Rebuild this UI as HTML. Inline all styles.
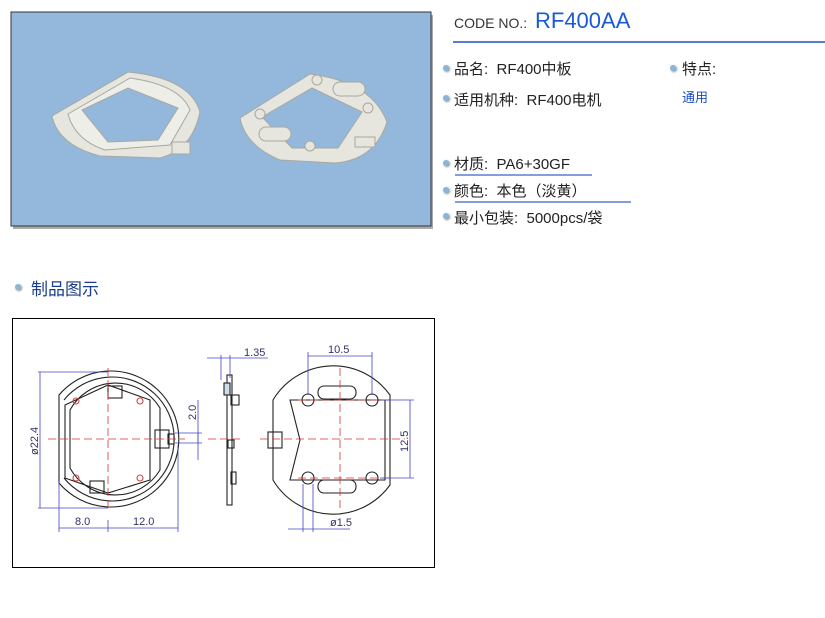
<!DOCTYPE html>
<html><head><meta charset="utf-8"><style>
body{margin:0;width:825px;height:618px;background:#fff;overflow:hidden;font-family:"Liberation Sans","Noto Sans CJK SC",sans-serif;}
.t{position:absolute;font-size:15px;color:#222;white-space:nowrap}
.dot{position:absolute;width:6px;height:6px;border-radius:50%;background:#8ab4d8;box-shadow:1px 1px 2px #888}
</style></head><body>
<svg width="825" height="618" style="position:absolute;left:0;top:0">
<rect x="13" y="15" width="420" height="214" fill="#aaa"/>
<rect x="11" y="12" width="420" height="214" fill="#94b8dc" stroke="#333" stroke-width="1"/>
<g fill="#e6e6de" stroke="#a8a8a0">
<path d="M52,116 L128,72 Q190,78 200,112 Q192,150 160,158 L100,156 Q58,145 52,116Z"/>
<path d="M68,114 L130,78 Q180,85 190,110 L170,145 L105,150 Q75,140 68,114Z" fill="#eeeee8"/>
<path d="M82,110 L128,88 L178,108 L158,140 L108,142Z" fill="#94b8dc"/>
<path d="M240,118 L310,74 Q372,82 387,122 Q375,160 335,163 L280,160 Q245,145 240,118Z"/>
<path d="M262,117 L312,88 L362,112 L338,148 L292,148Z" fill="#94b8dc"/>
<rect x="333" y="82" width="32" height="14" rx="7"/>
<rect x="259" y="127" width="32" height="14" rx="7"/>
<circle cx="260" cy="114" r="5"/><circle cx="317" cy="80" r="5"/><circle cx="368" cy="108" r="5"/><circle cx="310" cy="146" r="5"/>
<rect x="355" y="137" width="20" height="10"/>
<rect x="172" y="142" width="18" height="12"/>
</g>
<line x1="453" y1="42" x2="825" y2="42" stroke="#5a7fd0" stroke-width="2"/>
<line x1="455" y1="175" x2="592" y2="175" stroke="#5a7fd0" stroke-width="1.5"/>
<line x1="455" y1="202" x2="631" y2="202" stroke="#5a7fd0" stroke-width="1.5"/>
<rect x="12.5" y="318.5" width="422" height="249" fill="#fff" stroke="#000" stroke-width="1"/>
<g fill="none" stroke="#222" stroke-width="1.1">
<path d="M59,395 A68,68 0 1,1 59,483 Z"/>
<path d="M64,400 A62,62 0 1,1 64,478"/>
<path d="M70,410 A52,52 0 0,1 160,408 L160,470 A52,52 0 0,1 70,468Z"/>
<path d="M65,405 L108,385 L150,400 L150,480 L108,493 L65,478Z"/>
<rect x="155" y="430" width="14" height="18"/>
<rect x="168" y="434" width="6" height="10"/>
<rect x="108" y="386" width="14" height="12"/><rect x="90" y="481" width="14" height="12"/>
<circle cx="76" cy="401" r="3" stroke="#c44"/><circle cx="140" cy="401" r="3" stroke="#c44"/>
<circle cx="76" cy="478" r="3" stroke="#c44"/><circle cx="140" cy="478" r="3" stroke="#c44"/>
<rect x="227" y="375" width="5" height="130"/>
<rect x="224" y="383" width="6" height="12" fill="#cde"/>
<rect x="231" y="395" width="8" height="10"/>
<rect x="228" y="440" width="6" height="8"/><rect x="231" y="472" width="5" height="12"/>
<path d="M273,400 A70,70 0 0,1 390,395 L390,485 A70,70 0 0,1 273,480Z"/>
<path d="M290,400 L385,400 L385,480 L290,480 L300,440Z"/>
<rect x="318" y="386" width="38" height="13" rx="6"/><rect x="318" y="480" width="38" height="13" rx="6"/>
<circle cx="308" cy="400" r="6"/><circle cx="372" cy="400" r="6"/><circle cx="308" cy="478" r="6"/><circle cx="372" cy="478" r="6"/>
<rect x="268" y="432" width="14" height="16"/>
</g>
<g stroke="#d33" stroke-dasharray="8,4" stroke-width="0.8">
<line x1="48" y1="439" x2="185" y2="439"/><line x1="108" y1="368" x2="108" y2="512"/>
<line x1="208" y1="439" x2="242" y2="439"/>
<line x1="260" y1="439" x2="405" y2="439"/><line x1="340" y1="368" x2="340" y2="512"/>
<line x1="298" y1="400" x2="390" y2="400"/><line x1="298" y1="478" x2="390" y2="478"/>
</g>
<g stroke="#44c" stroke-width="0.8" fill="none">
<line x1="40" y1="372" x2="40" y2="508"/><line x1="38" y1="372" x2="108" y2="372"/><line x1="38" y1="508" x2="108" y2="508"/>
<line x1="59" y1="482" x2="59" y2="532"/><line x1="108" y1="520" x2="108" y2="532"/><line x1="178" y1="445" x2="178" y2="532"/>
<line x1="59" y1="528" x2="178" y2="528"/>
<line x1="198" y1="433" x2="198" y2="443"/><line x1="175" y1="433" x2="202" y2="433"/><line x1="175" y1="443" x2="202" y2="443"/>
<line x1="198" y1="400" x2="198" y2="460"/>
<line x1="207" y1="358" x2="268" y2="358"/><line x1="221" y1="355" x2="221" y2="380"/><line x1="230" y1="355" x2="230" y2="378"/>
<line x1="308" y1="356" x2="372" y2="356"/><line x1="308" y1="352" x2="308" y2="395"/><line x1="372" y1="352" x2="372" y2="395"/>
<line x1="410" y1="400" x2="410" y2="478"/><line x1="380" y1="400" x2="414" y2="400"/><line x1="380" y1="478" x2="414" y2="478"/>
<line x1="288" y1="529" x2="350" y2="529"/><line x1="303" y1="484" x2="303" y2="532"/><line x1="313" y1="484" x2="313" y2="532"/>
</g>
<g font-family="Liberation Sans" font-size="11" fill="#336">
<text x="75" y="525">8.0</text><text x="133" y="525">12.0</text>
<text x="244" y="356">1.35</text><text x="328" y="353">10.5</text><text x="330" y="526">ø1.5</text>
<text transform="translate(38,455) rotate(-90)">ø22.4</text>
<text transform="translate(196,420) rotate(-90)">2.0</text>
<text transform="translate(408,452) rotate(-90)">12.5</text>
</g>
</svg>
<div class="t" style="left:454px;top:15px;font-size:14px;color:#333">CODE NO.:</div>
<div class="t" style="left:535px;top:8px;font-size:22px;color:#1a5ad8">RF400AA</div>
<div class="dot" style="left:443px;top:65px"></div><div class="t" style="left:454px;top:58px">品名:&nbsp; RF400中板</div>
<div class="dot" style="left:443px;top:95px"></div><div class="t" style="left:454px;top:89px">适用机种:&nbsp; RF400电机</div>
<div class="dot" style="left:670px;top:65px"></div><div class="t" style="left:682px;top:58px">特点:</div>
<div class="t" style="left:682px;top:87px;font-size:13px;color:#1a4cc0">通用</div>
<div class="dot" style="left:443px;top:160px"></div><div class="t" style="left:454px;top:153px">材质:&nbsp; PA6+30GF</div>
<div class="dot" style="left:443px;top:187px"></div><div class="t" style="left:454px;top:180px">颜色:&nbsp; 本色（淡黄）</div>
<div class="dot" style="left:443px;top:213px"></div><div class="t" style="left:454px;top:207px">最小包装:&nbsp; 5000pcs/袋</div>
<div class="dot" style="left:15px;top:284px"></div><div class="t" style="left:31px;top:275px;font-size:17px;color:#1a3c8c">制品图示</div>
</body></html>
